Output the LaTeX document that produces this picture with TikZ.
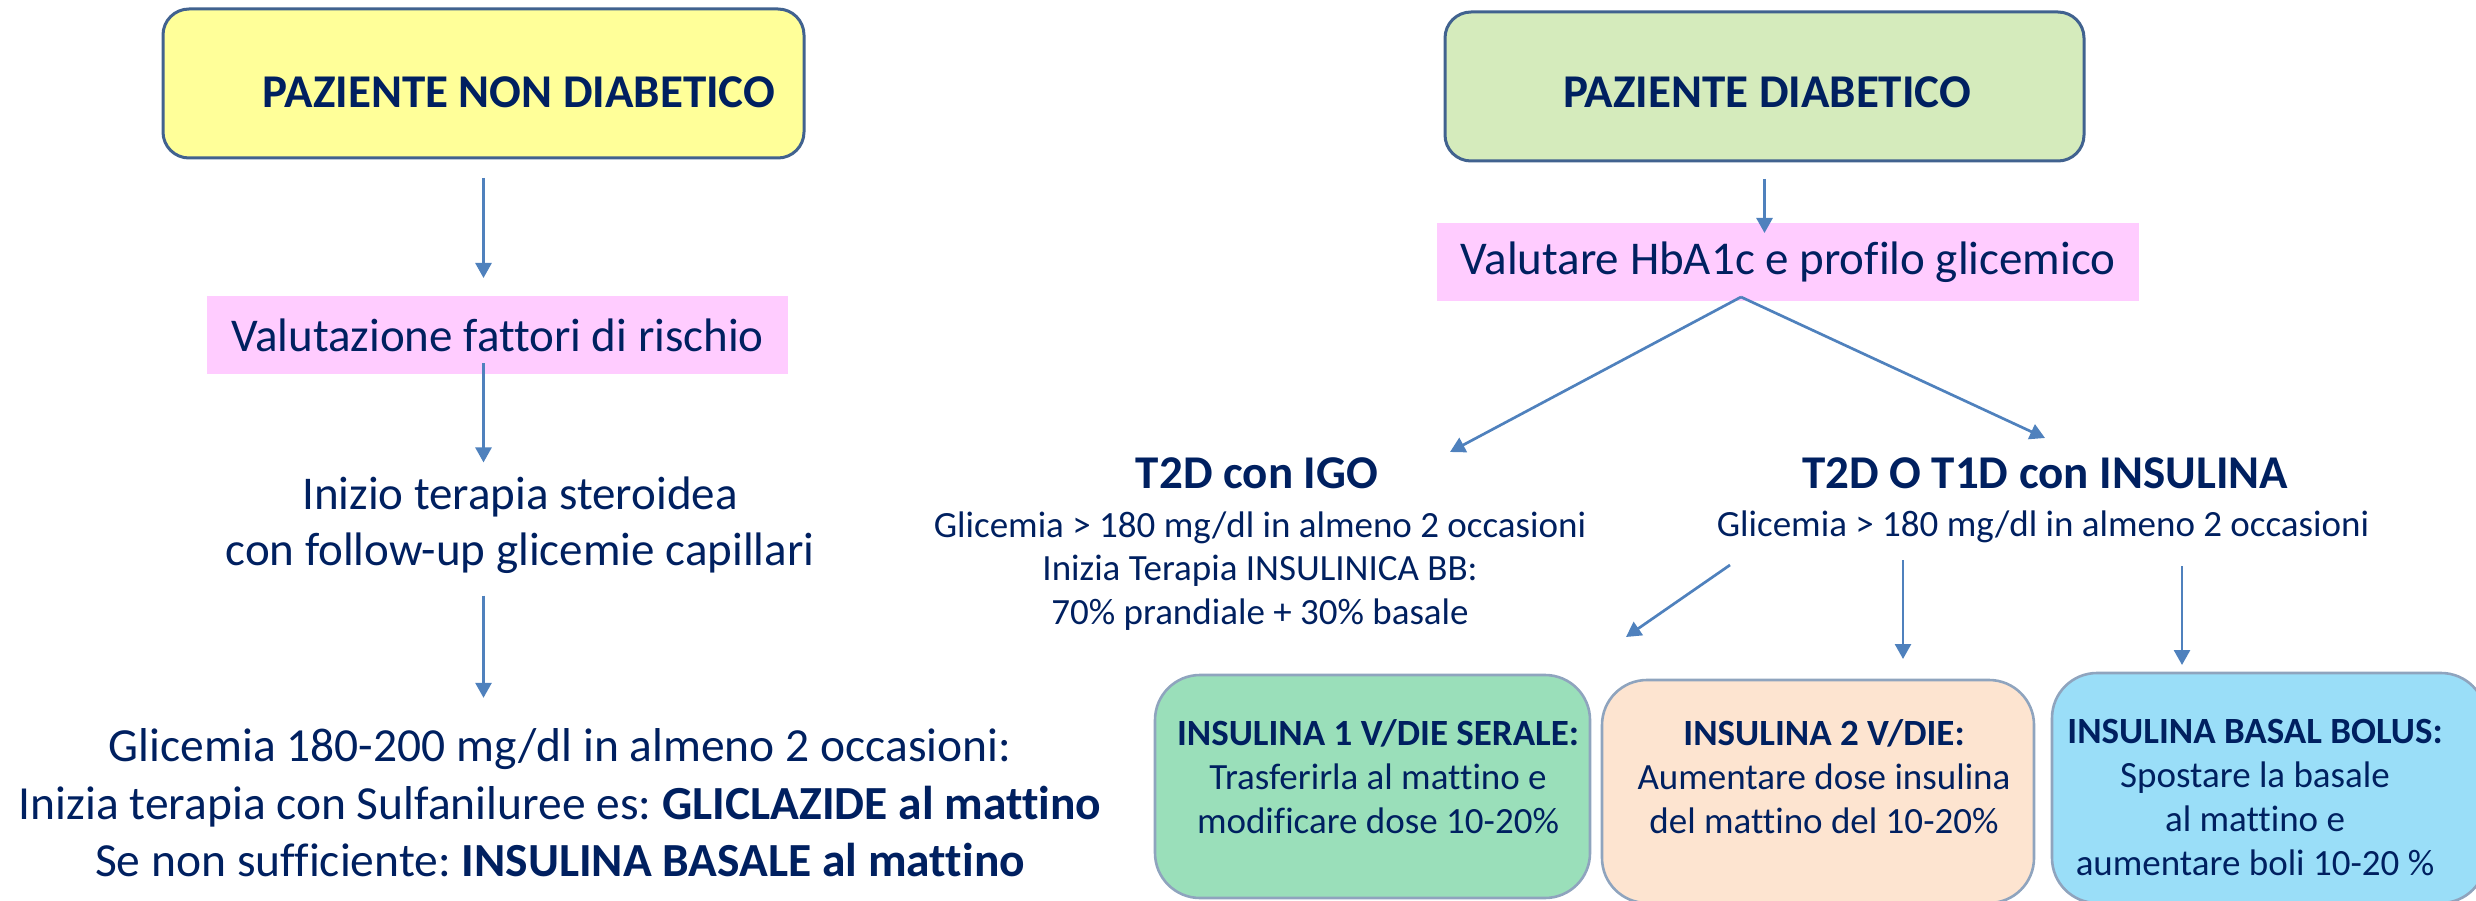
\documentclass[tikz,border=0pt]{standalone}
\usepackage{fontspec}
\setmainfont{Carlito}[Ligatures=NoCommon, Contextuals=NoAlternate]
\usetikzlibrary{arrows.meta}
\definecolor{navy}{HTML}{002060}
\definecolor{arrowblue}{HTML}{4F81BD}
\definecolor{topborder}{HTML}{41628F}
\definecolor{lowborder}{HTML}{8FA4BE}
\definecolor{yel}{HTML}{FFFF99}
\definecolor{lgreen}{HTML}{D5EBBC}
\definecolor{pinkbg}{HTML}{FFCCFF}
\definecolor{mint}{HTML}{9ADFBA}
\definecolor{peachbg}{HTML}{FDE4D0}
\definecolor{sky}{HTML}{9ADEF8}
\tikzset{
  big/.style={font=\fontsize{47}{56.4}\selectfont},
  bigb/.style={font=\fontsize{47}{56.4}\selectfont\bfseries},
  small/.style={font=\fontsize{37}{44}\selectfont},
  txt/.style={text=navy, inner sep=0pt, outer sep=0pt, align=center},
  topbox/.style={draw=topborder, line width=3pt, rounded corners=26pt, inner sep=0pt, outer sep=0pt},
  lowbox/.style={draw=lowborder, line width=2.6pt, rounded corners=45pt, inner sep=0pt, outer sep=0pt},
  pinkbox/.style={fill=pinkbg, text=navy, inner sep=0pt, outer sep=0pt},
  arr/.style={draw=arrowblue, line width=2.7pt, -{Triangle[width=16pt,length=15pt]}}
}
\begin{document}
\frenchspacing
\begin{tikzpicture}[x=1pt,y=-1pt]
\useasboundingbox (0,0) rectangle (2476,901);

% ---------- left column ----------
\node[topbox, fill=yel, minimum width=641pt, minimum height=149pt] (pnd) at (483.5,83.5) {};
\node[txt, bigb] (pndT) at (519,92) {PAZIENTE NON DIABETICO};
\node[pinkbox, big, minimum width=581pt, minimum height=78pt] (vfr) at (497.5,335) {Valutazione fattori di rischio};
\node[txt, big] (ster) at (520,525) {Inizio terapia steroidea\\con follow-up glicemie capillari};
\node[txt, font=\fontsize{47.5}{57.5}\selectfont] (glic) at (560,803)
  {Glicemia 180-200 mg/dl in almeno 2 occasioni:\\
   Inizia terapia con Sulfaniluree es: \textbf{GLICLAZIDE al mattino}\\
   Se non sufficiente: \textbf{INSULINA BASALE al mattino}};

\draw[arr, shorten <=20pt, shorten >=18pt] (pnd.south) -- (pnd.south |- vfr.north);
\draw[arr, shorten <=-11pt, shorten >=14pt] (pnd.south |- vfr.south) -- (pnd.south |- ster.north);
\draw[arr, shorten <=22pt, shorten >=31pt] (pnd.south |- ster.south) -- (pnd.south |- glic.north);

% ---------- right column ----------
\node[topbox, fill=lgreen, minimum width=639pt, minimum height=149pt] (pd) at (1764.5,86.5) {};
\node[txt, bigb] (pdT) at (1767,92.5) {PAZIENTE DIABETICO};
\node[pinkbox, big, minimum width=702pt, minimum height=78pt] (vhb) at (1788,262) {Valutare HbA1c e profilo glicemico};

\node[txt, bigb] (igo) at (1257,473) {T2D con IGO};
\node[txt, font=\fontsize{37}{43.5}\selectfont] (igoS) at (1260,571) {Glicemia > 180 mg/dl in almeno 2 occasioni\\Inizia Terapia INSULINICA BB:\\70\% prandiale + 30\% basale};
\node[txt, bigb] (ins) at (2045,473) {T2D O T1D con INSULINA};
\node[txt, small] (insS) at (2043,527) {Glicemia > 180 mg/dl in almeno 2 occasioni};

\node[lowbox, fill=mint, minimum width=435pt, minimum height=223pt] (b1) at (1372.5,786.5) {};
\node[txt, small] (b1T) at (1378,777) {\textbf{INSULINA 1 V/DIE SERALE:}\\Trasferirla al mattino e\\modificare dose 10-20\%};
\node[lowbox, fill=peachbg, minimum width=432pt, minimum height=223pt] (b2) at (1818,791.5) {};
\node[txt, small] (b2T) at (1824,777) {\textbf{INSULINA 2 V/DIE:}\\Aumentare dose insulina\\del mattino del 10-20\%};
\node[lowbox, fill=sky, minimum width=434pt, minimum height=230pt] (b3) at (2269,788) {};
\node[txt, small] (b3T) at (2255,798) {\textbf{INSULINA BASAL BOLUS:}\\Spostare la basale\\al mattino e\\aumentare boli 10-20 \%};

\coordinate (split) at (1741,297);
\coordinate (igoIn) at (1450,452);
\coordinate (insIn) at (2045,438);
\coordinate (a7s) at (1730,565);
\coordinate (a7e) at (1626,637);
\coordinate (a8s) at (1903,560);
\coordinate (a9s) at (2182,566);

\draw[arr, shorten <=18pt, shorten >=-10pt] (pd.south) -- (pd.south |- vhb.north);
\draw[arr] (split) -- (igoIn);
\draw[arr] (split) -- (insIn);
\draw[arr] (a7s) -- (a7e);
\draw[arr, shorten >=21pt] (a8s) -- (a8s |- b2.north);
\draw[arr, shorten >=8pt] (a9s) -- (a9s |- b3.north);
\end{tikzpicture}
\end{document}
